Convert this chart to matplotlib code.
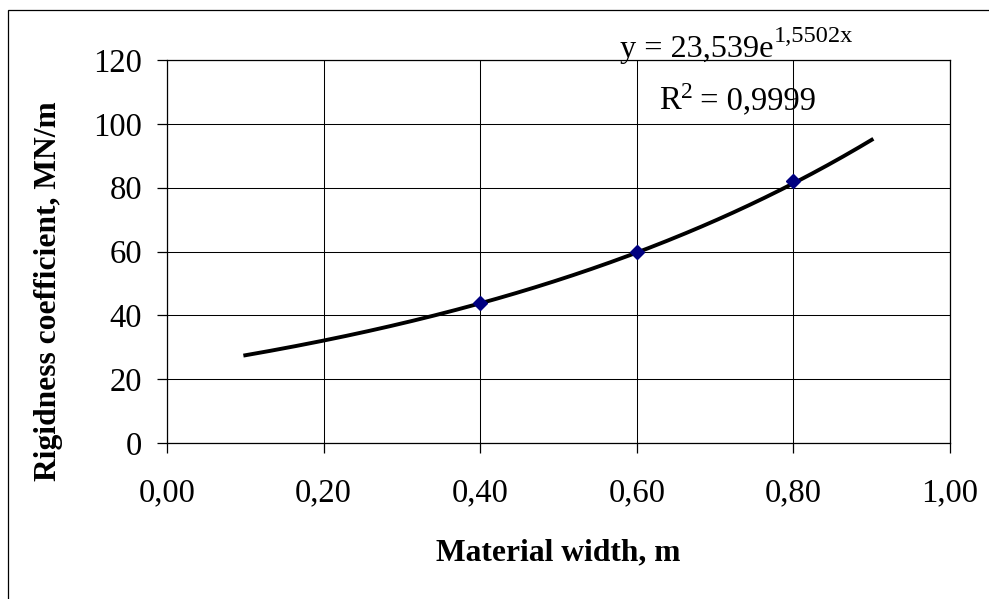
import numpy as np
import matplotlib
matplotlib.use("Agg")
import matplotlib.pyplot as plt
from matplotlib.patches import Rectangle
from matplotlib.ticker import FuncFormatter

plt.rcParams['font.family'] = ['Liberation Serif', 'DejaVu Serif']

# Data
width_m = [0.40, 0.60, 0.80]
rigidity = [44, 60, 82]
trend_a = 23.539
trend_b = 1.5502
trend_range = (0.10, 0.90)
x_ticks = [0.0, 0.2, 0.4, 0.6, 0.8, 1.0]
y_ticks = [0, 20, 40, 60, 80, 100, 120]

W, H = 989, 599
fig = plt.figure(figsize=(W / 100, H / 100), dpi=100)
fig.patches.append(Rectangle((8 / W, -0.05), 1.1, 1 - 10 / H + 0.05,
                             transform=fig.transFigure, fill=False,
                             edgecolor='black', linewidth=0.9))

ax = fig.add_axes([167 / W, 1 - 443 / H, (950 - 167) / W, (443 - 60) / H])

xt = np.linspace(trend_range[0], trend_range[1], 200)
ax.plot(xt, trend_a * np.exp(trend_b * xt), color='black', lw=2.8, zorder=3)
ax.plot(width_m, rigidity, linestyle='none', marker='D', markersize=7.5,
        color='#000080', zorder=4)

ax.set_xlim(0, 1)
ax.set_ylim(0, 120)
ax.set_xticks(x_ticks)
ax.set_yticks(y_ticks)
ax.xaxis.set_major_formatter(FuncFormatter(lambda v, p: f"{v:.2f}".replace('.', ',')))
ax.yaxis.set_major_formatter(FuncFormatter(lambda v, p: f"{v:.0f}"))
ax.grid(True, color='black', linewidth=0.75)
ax.set_axisbelow(True)
for s in ax.spines.values():
    s.set_linewidth(0.9)
    s.set_color('black')
ax.tick_params(axis='both', direction='out', length=7.2, width=0.9,
               labelsize=23.5, colors='black')
ax.tick_params(axis='x', pad=18)
ax.tick_params(axis='y', pad=10.8)

ax.set_xlabel('Material width, m', fontsize=22.7, fontweight='bold', labelpad=21.5)
fig.text(56 / W, 1 - 291.5 / H, 'Rigidness coefficient, MN/m', fontsize=22.7,
         fontweight='bold', rotation=90, rotation_mode='anchor',
         ha='center', va='baseline')

# Trendline equation and R^2 with superscripts
renderer = fig.canvas.get_renderer()


def sup_text(x_px, base_px, main, sup, after, size, sup_size, raise_px):
    t1 = fig.text(x_px / W, 1 - base_px / H, main, fontsize=size,
                  ha='left', va='baseline')
    bb = t1.get_window_extent(renderer)
    t2 = fig.text(bb.x1 / W, 1 - (base_px - raise_px) / H, sup,
                  fontsize=sup_size, ha='left', va='baseline')
    if after:
        bb2 = t2.get_window_extent(renderer)
        fig.text(bb2.x1 / W, 1 - base_px / H, after, fontsize=size,
                 ha='left', va='baseline')


sup_text(620, 57, 'y = 23,539e', '1,5502x', '', 23.2, 17.6, 15)
sup_text(659, 109, 'R', '2', ' = 0,9999', 23.5, 17, 11)

fig.savefig('out.png', dpi=100)
